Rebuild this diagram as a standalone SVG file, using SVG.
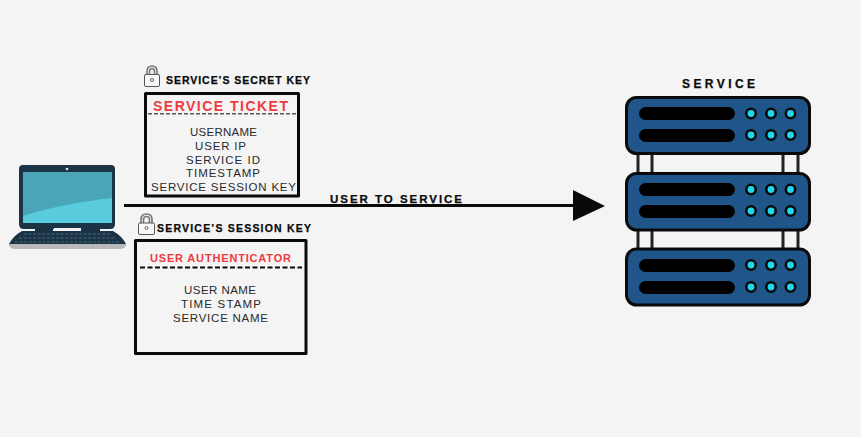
<svg xmlns="http://www.w3.org/2000/svg" width="861" height="437" viewBox="0 0 861 437">
<style>
text{font-family:"Liberation Sans",Arial,sans-serif;fill:#2a2a2a}
.hd{font-weight:700;font-size:10.500px;fill:#0a0a0a;stroke:#0a0a0a;stroke-width:.25}
.ln{font-size:11.500px}
.red{font-weight:700;fill:#ef3b3f}
.box{fill:#f4f4f4;stroke:#0a0a0a;stroke-width:3;stroke-linejoin:round}
.dash{fill:none}
.unit{fill:#1f5588;stroke:#0a0a0a;stroke-width:3}
.bar{fill:#000}
.dot{fill:#1fd8ee;stroke:#0a0a0a;stroke-width:2.600}
.post{stroke:#222;stroke-width:3;fill:none}
.lock{fill:#f8f8f8;stroke:#555;stroke-width:1}
.shackle{fill:none;stroke:#777;stroke-width:1.600}
</style>
<rect width="861" height="437" fill="#f4f4f4"/>
<g id="laptop">
<path d="M23 165H111Q115 165 115 169V224Q115 229 110 229H24Q19 229 19 224V169Q19 165 23 165Z" fill="#1a3345"/>
<rect x="23" y="172" width="89" height="51" fill="#4aa5b9"/>
<path d="M23 216Q60 204 112 198V223H23Z" fill="#58cbdc"/>
<circle cx="67" cy="169" r="1.300" fill="#dfe8ee"/>
<path d="M35 229H53V231H81V229H100V231H113Q122 236 126 244H9Q13 236 22 231H35Z" fill="#1a3345"/>
<rect x="54" y="228" width="27" height="1.500" fill="#eef2f4"/>
<g stroke="#38566a" stroke-width="1.600" stroke-dasharray="3 1.600">
<path d="M24 234H111M19 238H116M15 242H120"/>
</g>
<path d="M9 244H126V246Q124 249 120 249H15Q11 249 9 246Z" fill="#b7b9ba"/>
</g>
<g id="connectors">
<line x1="124" y1="205.500" x2="578" y2="205.500" stroke="#0a0a0a" stroke-width="3"/>
<polygon points="573,190 605,206 573,221" fill="#0a0a0a"/>
<text class="hd" x="330" y="203" textLength="132" style="font-size:11.500px">USER TO SERVICE</text>
</g>
<g id="service-ticket">
<g transform="translate(144,65)">
<path class="shackle" d="M3 10V6.500Q3 1 8 1Q13 1 13 6.500V10"/>
<path class="shackle" d="M5.500 10V7Q5.500 3.500 8 3.500Q10.500 3.500 10.500 7V10" stroke-width="1"/>
<rect class="lock" x="0.500" y="9.500" width="15" height="12" rx="1.500"/>
<circle cx="8" cy="15" r="1.500" fill="none" stroke="#666"/>
</g>
<text class="hd" x="166" y="84" textLength="144">SERVICE’S SECRET KEY</text>
<rect class="box" x="145.500" y="93.500" width="153" height="102.500"/>
<text class="red" x="153" y="111" textLength="135" style="font-size:14px">SERVICE TICKET</text>
<line class="dash" x1="148" y1="113.800" x2="297" y2="113.800" stroke="#555" stroke-width="1.600" stroke-dasharray="4 2"/>
<text class="ln" x="190" y="136" textLength="67">USERNAME</text>
<text class="ln" x="195" y="150" textLength="51">USER IP</text>
<text class="ln" x="186" y="164" textLength="74">SERVICE ID</text>
<text class="ln" x="186" y="177" textLength="74">TIMESTAMP</text>
<text class="ln" x="151" y="191" textLength="145">SERVICE SESSION KEY</text>
</g>
<g id="user-authenticator">
<g transform="translate(138,213)">
<path class="shackle" d="M3 10V6.500Q3 1 8.500 1Q14 1 14 6.500V10"/>
<path class="shackle" d="M5.500 10V7Q5.500 3.500 8.500 3.500Q11.500 3.500 11.500 7V10" stroke-width="1"/>
<rect class="lock" x="0.500" y="10" width="16" height="11.500" rx="1.500"/>
<circle cx="8.500" cy="15" r="1.500" fill="none" stroke="#666"/>
</g>
<text class="hd" x="157" y="232" textLength="154">SERVICE’S SESSION KEY</text>
<rect class="box" x="135.500" y="240.500" width="170.500" height="113"/>
<text class="red" x="150" y="262" textLength="141" style="font-size:11px">USER AUTHENTICATOR</text>
<line class="dash" x1="140" y1="267.500" x2="302" y2="267.500" stroke="#0a0a0a" stroke-width="1.800" stroke-dasharray="5 2.500"/>
<text class="ln" x="184" y="294" textLength="72">USER NAME</text>
<text class="ln" x="181" y="308" textLength="80">TIME STAMP</text>
<text class="ln" x="173" y="322" textLength="95">SERVICE NAME</text>
</g>
<g id="service">
<text class="hd" x="682" y="88" textLength="73" style="font-size:12px">SERVICE</text>
<path class="post" d="M638 154V173M652 154V173M783 154V173M798 154V173M638 231V248M652 231V248M783 231V248M798 231V248"/>
<g id="unit-1">
<rect class="unit" x="626.500" y="97.500" width="183" height="56" rx="10"/>
<rect class="bar" x="639" y="107" width="96" height="13" rx="6.500"/>
<rect class="bar" x="639" y="129" width="96" height="13" rx="6.500"/>
<circle class="dot" cx="751" cy="113.500" r="4.700"/><circle class="dot" cx="771" cy="113.500" r="4.700"/><circle class="dot" cx="790.500" cy="113.500" r="4.700"/>
<circle class="dot" cx="751" cy="135" r="4.700"/><circle class="dot" cx="771" cy="135" r="4.700"/><circle class="dot" cx="790.500" cy="135" r="4.700"/>
</g>
<g id="unit-2">
<rect class="unit" x="626.500" y="173.500" width="183" height="56.500" rx="10"/>
<rect class="bar" x="639" y="183" width="96" height="13" rx="6.500"/>
<rect class="bar" x="639" y="205" width="96" height="13" rx="6.500"/>
<circle class="dot" cx="751" cy="189.500" r="4.700"/><circle class="dot" cx="771" cy="189.500" r="4.700"/><circle class="dot" cx="790.500" cy="189.500" r="4.700"/>
<circle class="dot" cx="751" cy="211" r="4.700"/><circle class="dot" cx="771" cy="211" r="4.700"/><circle class="dot" cx="790.500" cy="211" r="4.700"/>
</g>
<g id="unit-3">
<rect class="unit" x="626.500" y="249" width="183" height="56" rx="10"/>
<rect class="bar" x="639" y="259" width="96" height="13" rx="6.500"/>
<rect class="bar" x="639" y="281" width="96" height="13" rx="6.500"/>
<circle class="dot" cx="751" cy="265" r="4.700"/><circle class="dot" cx="771" cy="265" r="4.700"/><circle class="dot" cx="790.500" cy="265" r="4.700"/>
<circle class="dot" cx="751" cy="287" r="4.700"/><circle class="dot" cx="771" cy="287" r="4.700"/><circle class="dot" cx="790.500" cy="287" r="4.700"/>
</g>
</g>
</svg>
